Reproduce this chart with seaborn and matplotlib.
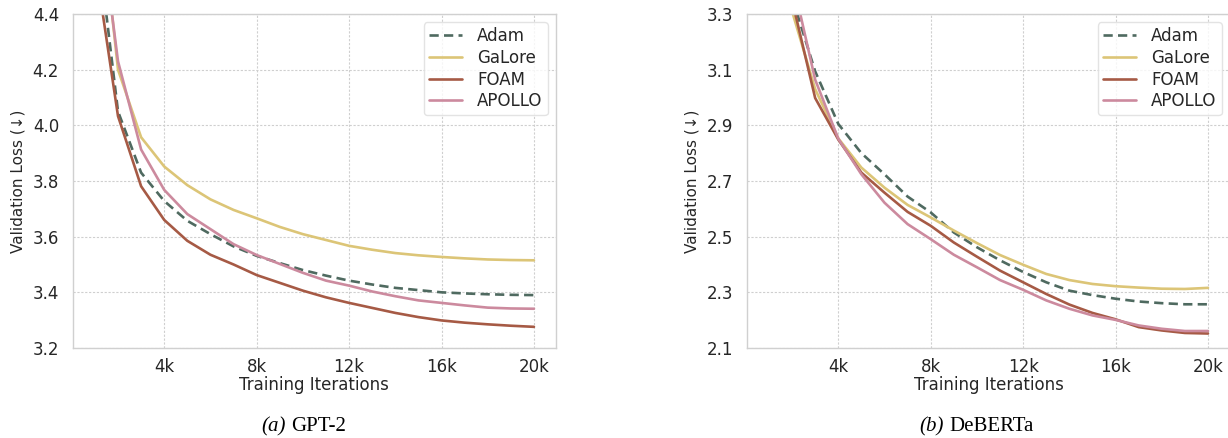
import numpy as np
import pandas as pd
import seaborn as sns
import matplotlib
matplotlib.use("Agg")
from matplotlib import pyplot as plt

steps = [1000, 2000, 3000, 4000, 5000, 6000, 7000, 8000, 9000, 10000,
         11000, 12000, 13000, 14000, 15000, 16000, 17000, 18000, 19000, 20000]
methods = ["Adam", "GaLore", "FOAM", "APOLLO"]

# GPT-2 validation loss
adam_gpt2 = [4.74, 4.05, 3.83, 3.728, 3.657, 3.609, 3.565, 3.531, 3.505, 3.48,
             3.46, 3.442, 3.428, 3.416, 3.408, 3.40, 3.396, 3.393, 3.391, 3.39]
galore_gpt2 = [4.97, 4.20, 3.957, 3.852, 3.785, 3.734, 3.696, 3.666, 3.635, 3.609,
               3.588, 3.567, 3.553, 3.541, 3.533, 3.527, 3.522, 3.518, 3.516, 3.515]
foam_gpt2 = [4.59, 4.033, 3.781, 3.66, 3.585, 3.535, 3.50, 3.462, 3.434, 3.406,
             3.382, 3.362, 3.344, 3.326, 3.311, 3.299, 3.291, 3.285, 3.280, 3.276]
apollo_gpt2 = [4.88, 4.23, 3.913, 3.768, 3.681, 3.627, 3.573, 3.534, 3.502, 3.47,
               3.442, 3.424, 3.403, 3.386, 3.371, 3.362, 3.353, 3.345, 3.342, 3.341]

# DeBERTa validation loss
adam_deberta = [3.9, 3.36, 3.094, 2.905, 2.80, 2.724, 2.644, 2.587, 2.515, 2.462,
                2.415, 2.373, 2.336, 2.306, 2.29, 2.277, 2.267, 2.261, 2.257, 2.257]
galore_deberta = [3.9, 3.31, 3.03, 2.853, 2.748, 2.676, 2.614, 2.569, 2.522, 2.477,
                  2.434, 2.399, 2.366, 2.344, 2.33, 2.322, 2.317, 2.313, 2.312, 2.316]
foam_deberta = [3.9, 3.35, 2.998, 2.849, 2.73, 2.658, 2.589, 2.539, 2.479, 2.428,
                2.378, 2.336, 2.294, 2.256, 2.226, 2.203, 2.175, 2.163, 2.154, 2.152]
apollo_deberta = [3.95, 3.43, 3.064, 2.852, 2.724, 2.622, 2.545, 2.491, 2.435, 2.39,
                  2.344, 2.309, 2.271, 2.241, 2.217, 2.201, 2.181, 2.169, 2.161, 2.161]

xticks = [4000, 8000, 12000, 16000, 20000]
xtick_labels = ["4k", "8k", "12k", "16k", "20k"]

colors = {"Adam": "#4f6a60", "GaLore": "#dcc577", "FOAM": "#a65a45", "APOLLO": "#cc8a9e"}
dashes = {"Adam": (3.5, 2), "GaLore": "", "FOAM": "", "APOLLO": ""}


def to_long(series):
    df = pd.DataFrame({"step": steps * 4,
                       "loss": sum(series, []),
                       "method": sum([[m] * len(steps) for m in methods], [])})
    return df


sns.set_theme(style="whitegrid")
plt.rcParams["font.family"] = ["DejaVu Sans"]
plt.rcParams["grid.linestyle"] = (0, (2, 1.5))
plt.rcParams["grid.color"] = "#cfcfcf"
plt.rcParams["grid.linewidth"] = 0.8
plt.rcParams["axes.edgecolor"] = "#d0d0d0"

fig = plt.figure(figsize=(12.28, 4.38), dpi=100)
ax1 = fig.add_axes([0.0594, 0.2055, 0.3933, 0.7626])
ax2 = fig.add_axes([0.6083, 0.2055, 0.3933, 0.7626])

panels = [
    (ax1, [adam_gpt2, galore_gpt2, foam_gpt2, apollo_gpt2], (3.2, 4.4), np.arange(3.2, 4.41, 0.2)),
    (ax2, [adam_deberta, galore_deberta, foam_deberta, apollo_deberta], (2.1, 3.3), np.arange(2.1, 3.31, 0.2)),
]

for ax, series, ylim, yticks in panels:
    df = to_long(series)
    sns.lineplot(data=df, x="step", y="loss", hue="method", style="method",
                 palette=colors, dashes=dashes, hue_order=methods, style_order=methods,
                 linewidth=1.9, ax=ax)
    ax.set_ylim(*ylim)
    ax.set_yticks(yticks)
    ax.set_yticklabels([f"{v:.1f}" for v in yticks])
    ax.set_xticks(xticks)
    ax.set_xticklabels(xtick_labels)
    ax.tick_params(labelsize=12, pad=4, colors="#262626")
    ax.tick_params(axis="x", pad=1)
    ax.set_xlabel("Training Iterations", fontsize=12, labelpad=0, color="#262626")
    ax.set_ylabel("Validation Loss (\u2193)", fontsize=11, labelpad=5, color="#262626")
    for sp in ax.spines.values():
        sp.set_linewidth(1.0)
    leg = ax.legend(loc="upper right", fontsize=12, frameon=True, handlelength=2.0,
                    borderpad=0.3, labelspacing=0.22, handletextpad=0.9)
    leg.get_frame().set_edgecolor("#dddddd")
    for h in leg.get_lines():
        h.set_linewidth(1.9)

cap = dict(fontsize=15, family="Liberation Serif", va="baseline", color="black")
ybase = 1 - 431 / 438
fig.text(286 / 1228, ybase, "(a)", ha="right", style="italic", **cap)
fig.text(291 / 1228, ybase, "GPT-2", ha="left", **cap)
fig.text(944 / 1228, ybase, "(b)", ha="right", style="italic", **cap)
fig.text(949 / 1228, ybase, "DeBERTa", ha="left", **cap)

fig.savefig("out.png", dpi=100)
